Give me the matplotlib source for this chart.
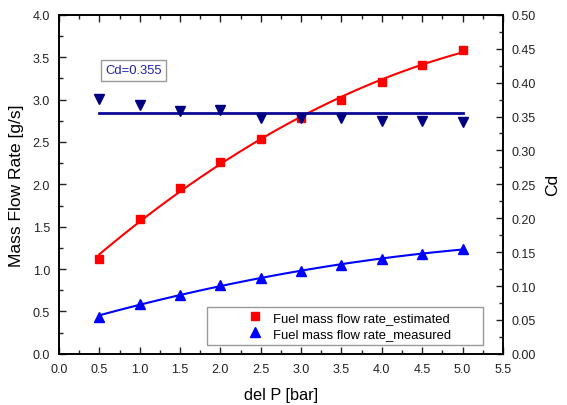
import matplotlib
matplotlib.use('Agg')
import matplotlib.pyplot as plt
import numpy as np
from matplotlib.patches import Rectangle
from matplotlib.ticker import MultipleLocator, FormatStrFormatter

plt.rcParams['font.family'] = ['Liberation Sans', 'DejaVu Sans']

# data
del_p = [0.5, 1.0, 1.5, 2.0, 2.5, 3.0, 3.5, 4.0, 4.5, 5.0]
flow_estimated = [1.12, 1.59, 1.96, 2.26, 2.54, 2.78, 3.00, 3.21, 3.41, 3.59]
flow_measured = [0.44, 0.59, 0.70, 0.81, 0.89, 0.98, 1.05, 1.12, 1.18, 1.24]
cd_values = [0.376, 0.367, 0.358, 0.360, 0.348, 0.348, 0.348, 0.344, 0.343, 0.342]
cd_mean = 0.355

x = np.array(del_p)

fig = plt.figure(figsize=(5.67, 4.06), dpi=100)
ax = fig.add_axes([0.104, 0.126, 0.783, 0.835])
ax2 = ax.twinx()

# fitted curves through the flow rate points
xs = np.linspace(x.min(), x.max(), 100)
fit_est = np.polyfit(x, flow_estimated, 2)
fit_meas = np.polyfit(x, flow_measured, 2)
ax.plot(xs, np.polyval(fit_est, xs), color='#ff0000', lw=1.5, zorder=2)
ax.plot(xs, np.polyval(fit_meas, xs), color='#0000ff', lw=1.5, zorder=2)

sq, = ax.plot(x, flow_estimated, 's', color='#ff0000', ms=6, ls='none', zorder=3,
              label='Fuel mass flow rate_estimated')
tri, = ax.plot(x, flow_measured, '^', color='#0000ff', ms=7.5, ls='none', zorder=3,
               label='Fuel mass flow rate_measured')

ax2.plot([x.min(), x.max()], [cd_mean, cd_mean], color='#0a0a96', lw=2)
ax2.plot(x, cd_values, 'v', color='#000080', ms=7, ls='none')

ax.set_xlim(0, 5.5)
ax.set_ylim(0, 4.0)
ax2.set_ylim(0, 0.5)

ax.xaxis.set_major_locator(MultipleLocator(0.5))
ax.xaxis.set_minor_locator(MultipleLocator(0.25))
ax.yaxis.set_major_locator(MultipleLocator(0.5))
ax.yaxis.set_minor_locator(MultipleLocator(0.25))
ax2.yaxis.set_major_locator(MultipleLocator(0.05))
ax2.yaxis.set_minor_locator(MultipleLocator(0.025))

ax.xaxis.set_major_formatter(FormatStrFormatter('%.1f'))
ax.yaxis.set_major_formatter(FormatStrFormatter('%.1f'))
ax2.yaxis.set_major_formatter(FormatStrFormatter('%.2f'))

ax.tick_params(which='both', direction='in', top=True, right=False, labelsize=9,
               width=1, colors='#222222', pad=6.5)
ax.tick_params(which='major', length=5)
ax.tick_params(which='minor', length=3)
ax2.tick_params(which='both', direction='in', labelsize=9, width=1, colors='#222222', pad=6)
ax2.tick_params(which='major', length=5)
ax2.tick_params(which='minor', length=3)
for a in (ax, ax2):
    for s in a.spines.values():
        s.set_linewidth(1.2)

ax.set_xlabel('del P [bar]', fontsize=11.7, labelpad=9)
ax.set_ylabel('Mass Flow Rate [g/s]', fontsize=12.5, labelpad=6)
ax2.set_ylabel('Cd', fontsize=12.5, labelpad=7)

# Cd annotation box
ax.text(0.575, 3.345, 'Cd=0.355', fontsize=9.4, color='#2020b0', va='center', ha='left',
        bbox=dict(boxstyle='square,pad=0.35', fc='white', ec='#999999', lw=1))

# legend with a hand-drawn frame to match the reference spacing
ax.add_patch(Rectangle((0.333, 0.027), 0.622, 0.112, transform=ax.transAxes,
                       fill=False, ec='#999999', lw=1, zorder=4))
ax.legend(handles=[sq, tri], loc='center left', bbox_to_anchor=(0.427, 0.083),
          frameon=False, fontsize=9.4, handlelength=1.0, handletextpad=0.9,
          labelspacing=0.3, borderpad=0, borderaxespad=0)

fig.savefig('out.png', dpi=100)
